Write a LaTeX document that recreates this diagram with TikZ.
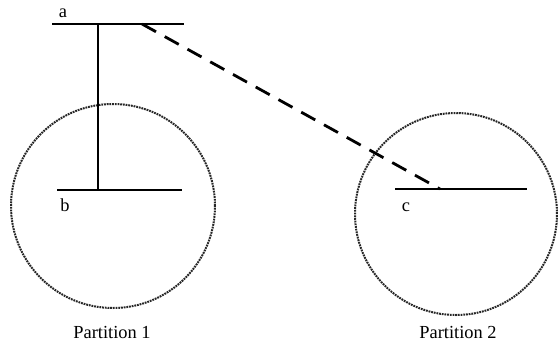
\documentclass[tikz,border=0pt]{standalone}
\usepackage{fontspec}
\setmainfont{Liberation Serif}
\usetikzlibrary{positioning}
\tikzset{
  bar/.style={line width=1.3pt, draw=black},
  link/.style={line width=1.4pt, draw=black, dash pattern=on 8pt off 5pt},
  partition/.style={circle, draw=black!85, line width=1pt, dash pattern=on 0.9pt off 0.45pt, inner sep=0pt},
  tag/.style={font=\fontsize{9.2}{11}\selectfont, inner sep=0pt, anchor=base},
  caption/.style={tag}
}
\begin{document}
\begin{tikzpicture}[x=0.5pt,y=-0.5pt]
\useasboundingbox[fill=white] (0,0) rectangle (558,350);
% partitions
\node[partition, minimum size=102pt] (part1) at (113,206) {};
\node[partition, minimum size=101pt] (part2) at (456,214) {};
\node[caption] (cap1) at (112,338) {Partition 1};
\node[caption] (cap2) at (458,338) {Partition 2};
% bars
\coordinate (a1) at (52,24);
\coordinate (a2) at (184,24);
\coordinate (b1) at (57,190);
\coordinate (b2) at (182,190);
\coordinate (c1) at (395,189);
\coordinate (c2) at (527,189);
\draw[bar] (a1) -- (a2);
\draw[bar] (b1) -- (b2);
\draw[bar] (c1) -- (c2);
\node[tag] (la) at (63,17) {a};
\node[tag] (lb) at (65,211) {b};
\node[tag] (lc) at (406,211) {c};
% links
\coordinate (ab) at (98,24);
\coordinate (ba) at (98,190);
\coordinate (ac) at (142,24);
\coordinate (ca) at (440,189);
\draw[bar] (ab) -- (ba);
\draw[link] (ac) -- (ca);
\end{tikzpicture}
\end{document}
